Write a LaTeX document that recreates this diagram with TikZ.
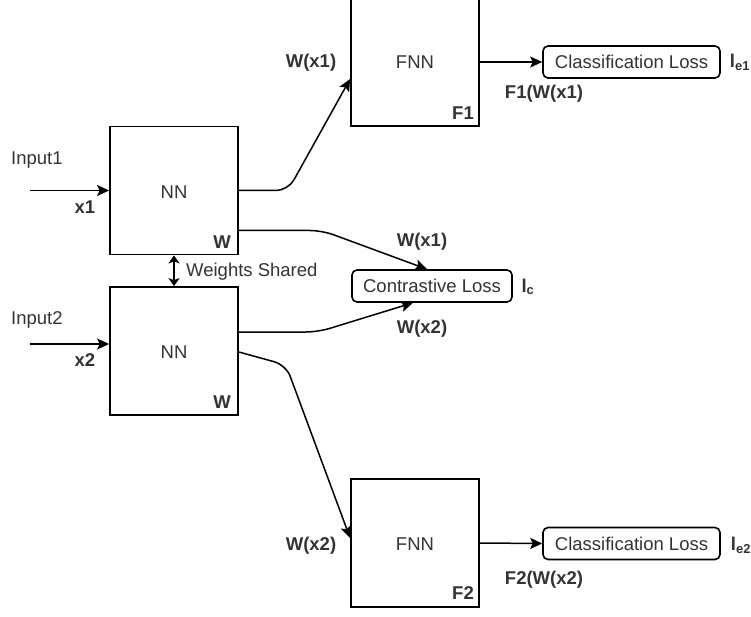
\documentclass[tikz,border=0pt]{standalone}
\usepackage{fontspec}
\setmainfont{Liberation Sans}
\usetikzlibrary{arrows.meta}
\definecolor{txtgray}{HTML}{333333}

\begin{document}
\begin{tikzpicture}[
  x=1pt, y=-1pt,
  every node/.style={font=\fontsize{18.5}{22}\selectfont, text=txtgray},
  net/.style   ={draw, line width=1.8pt, minimum width=128pt,
                 minimum height=128pt, inner sep=0pt},
  loss/.style  ={draw, line width=1.6pt, rounded corners=5pt,
                 minimum height=32pt, inner sep=2pt},
  lbl/.style   ={font=\fontsize{18.5}{22}\selectfont\bfseries, inner sep=0pt},
  plain/.style ={inner sep=0pt},
  arr/.style   ={-{Stealth[length=12pt, width=11pt, inset=2.5pt]}, line width=1.5pt},
  dbl/.style   ={{Stealth[length=8pt, width=11pt, inset=2pt]}-{Stealth[length=8pt, width=11pt, inset=2pt]},
                 line width=1.6pt},
]
\useasboundingbox (0,0) rectangle (751,617);

%% ---- y layout (pixels, y down) ----
%%   62  FNN1 / Classification Loss 1
%%  190  NN1
%%  286  Contrastive Loss
%%  351  NN2
%%  543  FNN2 / Classification Loss 2

%% ---- Shared networks ----
\node[net] (NN1) at (174,190.5) {};
\node[plain] (NN1txt) at (174,192) {NN};
\node[lbl]   (NN1w)   at (222,242) {W};

\node[net] (NN2) at (174,351) {};
\node[plain] (NN2txt) at (174,352) {NN};
\node[lbl]   (NN2w)   at (222,402) {W};

\draw[dbl] (NN1.south) -- (NN2.north);
\node[plain, anchor=west] (shared) at (186,272) {Weights Shared};

%% ---- Inputs ----
\node[plain, anchor=west] (in1txt) at (11,160) {Input1};
\coordinate (src1) at (30,190.5);
\draw[arr] (src1) -- (NN1.west);
\node[lbl] (x1) at (85,207) {x1};

\node[plain, anchor=west] (in2txt) at (11,320) {Input2};
\coordinate (src2) at (30,344);
\draw[arr] (src2) -- (NN2.west |- src2);
\node[lbl] (x2) at (85,360) {x2};

%% ---- Branch 1 ----
\node[net] (FNN1) at (415,62) {};
\node[plain] (FNN1txt) at (415,62) {FNN};
\node[lbl]   (F1)      at (463,113) {F1};
\draw[arr, rounded corners=12pt] (NN1.east) -- (288,190.5)
  -- ([yshift=-17pt]FNN1.west);
\node[lbl] (wx1a) at (311,63) {W(x1)};

\node[loss, minimum width=177pt] (CL1) at (631.5,62) {Classification Loss};
\draw[arr] (FNN1.east) -- (CL1.west);
\node[lbl] (f1w) at (544,94) {F1(W(x1)};
\node[lbl] (le1) at (740,62) {l\textsubscript{e1}};

%% ---- Contrastive loss ----
\node[loss, minimum width=160pt] (CTL) at (432,286) {Contrastive Loss};
\node[lbl] (lc) at (528,287) {l\textsubscript{c}};
\draw[arr, rounded corners=12pt] ([yshift=-40pt]NN1.east) -- (322,230.5)
  -- ([xshift=-5pt]CTL.north);
\node[lbl] (wx1b) at (422,242) {W(x1)};
\draw[arr, rounded corners=12pt] ([yshift=19pt]NN2.east) -- (318,332)
  -- ([xshift=-19pt]CTL.south);
\node[lbl] (wx2b) at (422,329) {W(x2)};

%% ---- Branch 2 ----
\node[net] (FNN2) at (415,543) {};
\node[plain] (FNN2txt) at (415,544) {FNN};
\node[lbl]   (F2)      at (463,593) {F2};
\draw[arr, rounded corners=12pt] ([yshift=-1pt]NN2.east) -- (286,365)
  -- ([yshift=5pt]FNN2.west);
\node[lbl] (wx2a) at (311,546) {W(x2)};

\node[loss, minimum width=177pt] (CL2) at (631.5,543.5) {Classification Loss};
\draw[arr] (FNN2.east) -- (CL2.west);
\node[lbl] (f2w) at (544,580) {F2(W(x2)};
\node[lbl] (le2) at (741,545) {l\textsubscript{e2}};

\end{tikzpicture}
\end{document}
